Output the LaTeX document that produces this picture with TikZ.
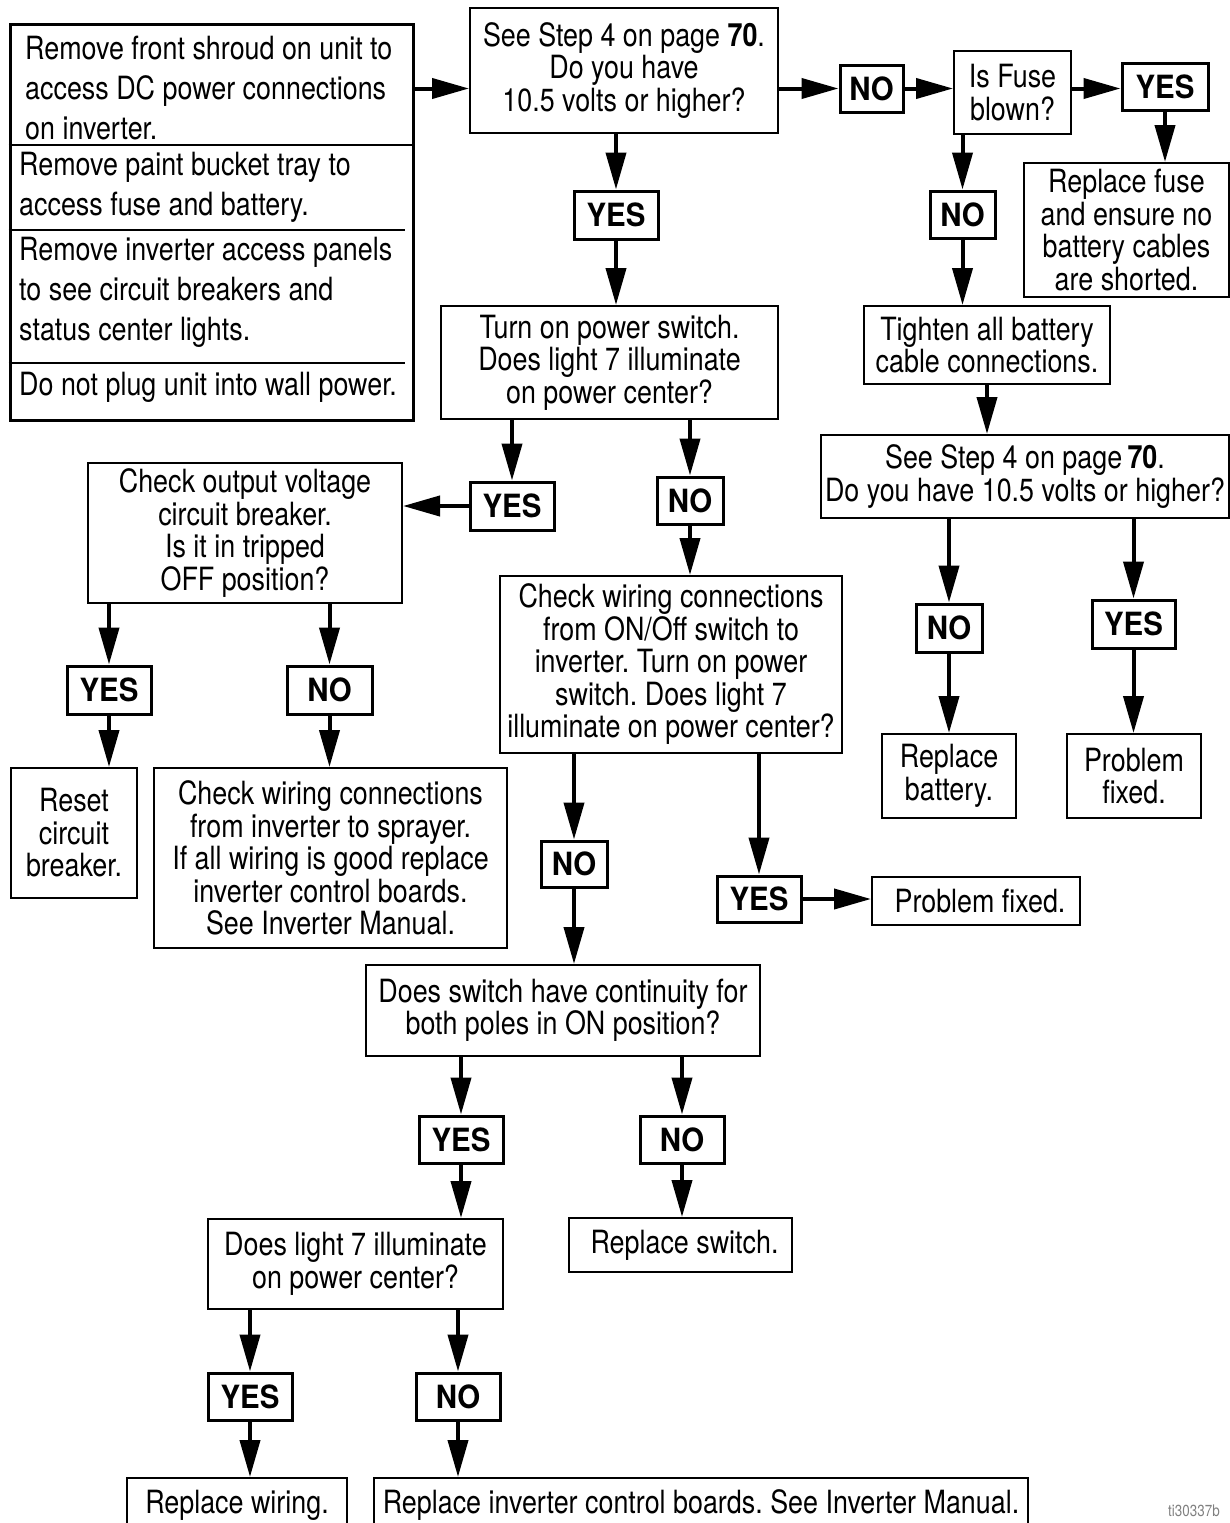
\documentclass[tikz,border=0pt]{standalone}
\usepackage{fontspec}
\setmainfont{TeX Gyre Heros}[FakeStretch=0.84]
\newfontfamily\labelfont{TeX Gyre Heros}[FakeStretch=0.92]
\usetikzlibrary{arrows.meta}
\frenchspacing
\begin{document}
\begin{tikzpicture}[x=1pt,y=-1pt,
  box/.style={draw, line width=2pt, fill=white, inner sep=0pt, align=center, font=\fontsize{32}{32.5}\selectfont},
  lbl/.style={draw, line width=3pt, fill=white, inner sep=0pt, font=\labelfont\bfseries\fontsize{32}{32}\selectfont},
  sect/.style={anchor=west, inner sep=0pt, align=left, font=\fontsize{32}{40}\selectfont},
  arr/.style={line width=4pt, -{Triangle[length=37pt,width=20pt]}}]
\useasboundingbox[fill=white] (0,0) rectangle (1230,1523);

% top-left instruction box
\node[draw, line width=3pt, minimum width=403pt, minimum height=396pt, inner sep=0pt] (A) at (211.5,222) {};
\coordinate (d1) at (0,145);
\coordinate (d2) at (0,230);
\coordinate (d3) at (0,363);
\coordinate (dr) at (405,0);
\draw[line width=1.8pt] (A.west |- d1) -- (A.east |- d1);
\draw[line width=1.6pt] (A.west |- d2) -- (dr |- d2);
\draw[line width=1.6pt] (A.west |- d3) -- (dr |- d3);
\node[sect] (A1) at (25,88) {Remove front shroud on unit to\\access DC power connections\\on inverter.};
\node[sect] (A2) at (19,187) {Remove paint bucket tray to\\access fuse and battery.};
\node[sect] (A3) at (19,292) {Remove inverter access panels\\to see circuit breakers and\\status center lights.};
\node[sect] (A4) at (19,387) {Do not plug unit into wall power.};

% boxes
\node[box, minimum width=308pt, minimum height=125pt] (B) at (624,70.5) {See Step 4 on page \textbf{70}.\\Do you have\\10.5 volts or higher?};
\node[lbl, minimum width=63pt, minimum height=47pt] (NO1) at (871.5,88.5) {NO};
\node[box, minimum width=117pt, minimum height=83pt] (Fuse) at (1012.5,92.5) {Is Fuse\\blown?};
\node[lbl, minimum width=86pt, minimum height=47pt] (YES1) at (1165,86.5) {YES};
\node[box, minimum width=205pt, minimum height=134pt] (RFuse) at (1126.5,230) {Replace fuse\\and ensure no\\battery cables\\are shorted.};
\node[lbl, minimum width=65pt, minimum height=47pt] (NO2) at (962.5,214.5) {NO};
\node[box, minimum width=246pt, minimum height=78pt] (Tight) at (987,345) {Tighten all battery\\cable connections.};
\node[box, minimum width=408pt, minimum height=83pt] (S4b) at (1025,476.5) {See Step 4 on page\,\textbf{70}.\\Do you have 10.5 volts or higher?};
\node[lbl, minimum width=66pt, minimum height=48pt] (NO3) at (949,628) {NO};
\node[box, minimum width=134pt, minimum height=84pt] (RBatt) at (949,776) {Replace\\battery.};
\node[lbl, minimum width=83pt, minimum height=48pt] (YES3) at (1133.5,624) {YES};
\node[box, minimum width=134pt, minimum height=84pt] (Prob1) at (1134,776) {Problem\\fixed.};

\node[lbl, minimum width=84pt, minimum height=48pt] (YES2) at (616,215) {YES};
\node[box, minimum width=337pt, minimum height=113pt] (C) at (609.5,362.5) {Turn on power switch.\\Does light 7 illuminate\\on power center?};
\node[lbl, minimum width=84pt, minimum height=48pt] (YES4) at (512,506) {YES};
\node[lbl, minimum width=66pt, minimum height=47pt] (NO4) at (690,500.5) {NO};
\node[box, minimum width=342pt, minimum height=177pt] (D) at (671,664.5) {Check wiring connections\\from ON/Off switch to\\inverter. Turn on power\\switch. Does light 7\\illuminate on power center?};
\node[box, minimum width=314pt, minimum height=140pt] (E) at (245,533) {Check output voltage\\circuit breaker.\\Is it in tripped\\OFF position?};
\node[lbl, minimum width=84pt, minimum height=48pt] (YES5) at (109,690) {YES};
\node[lbl, minimum width=85pt, minimum height=48pt] (NO5) at (329.5,690) {NO};
\node[box, minimum width=126pt, minimum height=130pt] (Reset) at (74,833) {Reset\\circuit\\breaker.};
\node[box, minimum width=353pt, minimum height=180pt] (CW2) at (330.5,858) {Check wiring connections\\from inverter to sprayer.\\If all wiring is good replace\\inverter control boards.\\See Inverter Manual.};

\node[lbl, minimum width=66pt, minimum height=46pt] (NO6) at (574,864) {NO};
\node[lbl, minimum width=84pt, minimum height=46pt] (YES6) at (759,899) {YES};
\node[box, minimum width=208pt, minimum height=48pt] (Prob2) at (976,901) {\hspace*{8pt}Problem fixed.};
\node[box, minimum width=394pt, minimum height=91pt] (F) at (563,1010.5) {Does switch have continuity for\\both poles in ON position?};
\node[lbl, minimum width=84pt, minimum height=47pt] (YES7) at (461,1139.5) {YES};
\node[lbl, minimum width=84pt, minimum height=47pt] (NO7) at (682,1139.5) {NO};
\node[box, minimum width=295pt, minimum height=90pt] (G) at (355.5,1264) {Does light 7 illuminate\\on power center?};
\node[box, minimum width=223pt, minimum height=54pt] (RSw) at (680.5,1245) {\hspace*{8pt}Replace switch.};
\node[lbl, minimum width=84pt, minimum height=47pt] (YES8) at (250,1396.5) {YES};
\node[lbl, minimum width=84pt, minimum height=47pt] (NO8) at (458,1396.5) {NO};
\node[box, minimum width=220pt, minimum height=54pt] (RWire) at (237,1505) {Replace wiring.};
\node[box, minimum width=654pt, minimum height=54pt] (RInv) at (701,1505) {Replace inverter control boards. See Inverter Manual.};
\node[inner sep=0pt, text=gray, font=\fontsize{16}{16}\selectfont] (tag) at (1194,1511) {ti30337b};

% connectors
\draw[arr] (A.east |- NO1) -- (B.west |- NO1);
\draw[arr] (B.east |- NO1) -- (NO1.west);
\draw[arr] (NO1.east) -- (Fuse.west |- NO1);
\draw[arr] (Fuse.east |- NO1) -- (YES1.west |- NO1);
\draw[arr] (YES1.south) -- (RFuse.north -| YES1);
\draw[arr] (Fuse.south -| NO2) -- (NO2.north);
\draw[arr] (NO2.south) -- (Tight.north -| NO2);
\draw[arr] (Tight.south) -- (S4b.north -| Tight);
\draw[arr] (S4b.south -| NO3) -- (NO3.north);
\draw[arr] (NO3.south) -- (RBatt.north);
\draw[arr] (S4b.south -| YES3) -- (YES3.north);
\draw[arr] (YES3.south) -- (Prob1.north -| YES3);
\draw[arr] (B.south -| YES2) -- (YES2.north);
\draw[arr] (YES2.south) -- (C.north -| YES2);
\draw[arr] (C.south -| YES4) -- (YES4.north);
\draw[arr] (YES4.west) -- (E.east |- YES4);
\draw[arr] (C.south -| NO4) -- (NO4.north);
\draw[arr] (NO4.south) -- (D.north -| NO4);
\draw[arr] (E.south -| YES5) -- (YES5.north);
\draw[arr] (YES5.south) -- (Reset.north -| YES5);
\draw[arr] (E.south -| NO5) -- (NO5.north);
\draw[arr] (NO5.south) -- (CW2.north -| NO5);
\draw[arr] (D.south -| NO6) -- (NO6.north);
\draw[arr] (NO6.south) -- (F.north -| NO6);
\draw[arr] (D.south -| YES6) -- (YES6.north);
\draw[arr] (YES6.east) -- (Prob2.west |- YES6);
\draw[arr] (F.south -| YES7) -- (YES7.north);
\draw[arr] (YES7.south) -- (G.north -| YES7);
\draw[arr] (F.south -| NO7) -- (NO7.north);
\draw[arr] (NO7.south) -- (RSw.north -| NO7);
\draw[arr] (G.south -| YES8) -- (YES8.north);
\draw[arr] (YES8.south) -- (RWire.north -| YES8);
\draw[arr] (G.south -| NO8) -- (NO8.north);
\draw[arr] (NO8.south) -- (RInv.north -| NO8);
\end{tikzpicture}
\end{document}
